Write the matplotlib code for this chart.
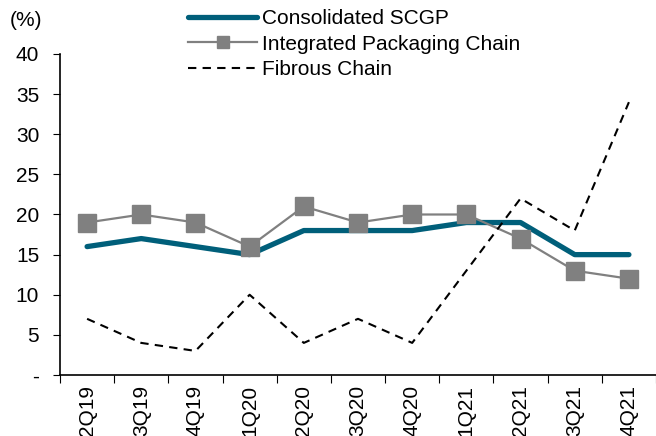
import matplotlib
matplotlib.use("Agg")
import matplotlib.pyplot as plt
import numpy as np

plt.rcParams['font.family'] = ['Liberation Sans', 'DejaVu Sans']

# quarters and margins (%)
quarters = ['2Q19', '3Q19', '4Q19', '1Q20', '2Q20', '3Q20', '4Q20',
            '1Q21', '2Q21', '3Q21', '4Q21']
consolidated = [16, 17, 16, 15, 18, 18, 18, 19, 19, 15, 15]
integrated = [19, 20, 19, 16, 21, 19, 20, 20, 17, 13, 12]
fibrous = [7, 4, 3, 10, 4, 7, 4, 13, 22, 18, 34]
ytick_vals = [0, 5, 10, 15, 20, 25, 30, 35, 40]
ytick_labels = ['-', '5', '10', '15', '20', '25', '30', '35', '40']

fs = 15
fig = plt.figure(figsize=(6.56, 4.36), dpi=100)
ax = fig.add_axes([60 / 656, (436 - 375) / 436, 1 - 60 / 656, (375 - 54) / 436])

x = np.arange(len(quarters))
ax.plot(x, consolidated, color='#005F7A', lw=3.8, solid_capstyle='round',
        label='Consolidated SCGP', zorder=2)
ax.plot(x, integrated, color='#808080', lw=1.6, marker='s', ms=13,
        label='Integrated Packaging Chain', zorder=3)
ax.plot(x, fibrous, color='black', lw=1.5, dashes=(4, 3),
        label='Fibrous Chain', zorder=4)

ax.set_xlim(-0.5, len(quarters) - 0.5)
ax.set_ylim(0, 40)
ax.set_yticks(ytick_vals)
ax.set_yticklabels(ytick_labels, fontsize=fs)
ax.set_xticks(np.arange(len(quarters) + 1) - 0.5)
ax.set_xticklabels([])
ax.set_xticks(x, minor=True)
ax.set_xticklabels(quarters, minor=True, rotation=90, fontsize=fs)
ax.tick_params(axis='x', which='major', length=6, direction='out')
ax.tick_params(axis='x', which='minor', length=0, pad=7)
ax.tick_params(axis='y', length=5, pad=10)
for s in ['top', 'right']:
    ax.spines[s].set_visible(False)
for s in ['left', 'bottom']:
    ax.spines[s].set_linewidth(1.2)
ax.spines['bottom'].set_clip_on(False)

fig.text(10 / 656, 1 - 20 / 436, '(%)', fontsize=fs, va='center', ha='left')

fig.legend(loc='upper left', bbox_to_anchor=(180 / 656, 1 - 1 / 436),
           frameon=False, fontsize=fs, handlelength=3.3, handletextpad=0.25,
           labelspacing=0.3, borderaxespad=0, markerscale=0.7)

fig.savefig('out.png', dpi=100)
